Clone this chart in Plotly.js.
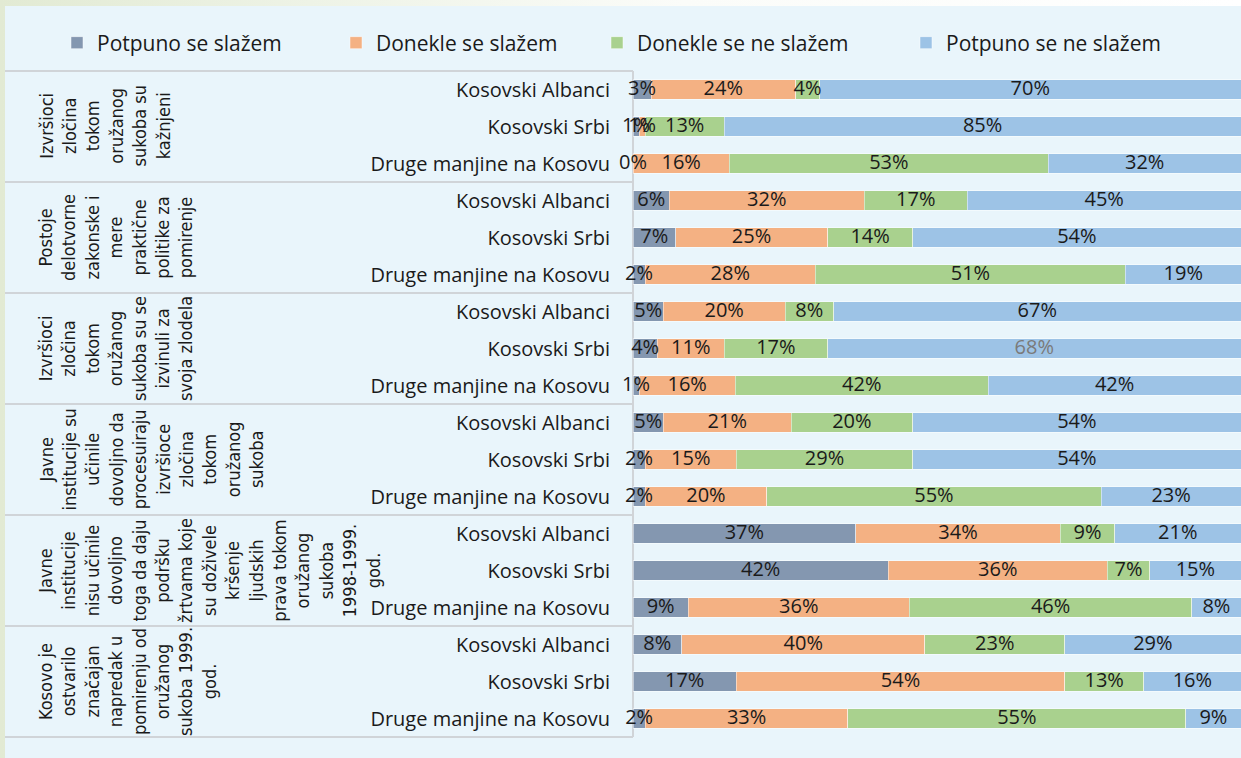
<!DOCTYPE html>
<html>
<head>
<meta charset="utf-8">
<script src="https://cdn.plot.ly/plotly-3.0.1.min.js"></script>
<style>
html,body{margin:0;padding:0;width:1241px;height:758px;overflow:hidden;
background:linear-gradient(90deg,#e2ead3 0%,#eef3e6 25%,#fbfcf9 55%,#ffffff 100%);}
#chart{position:absolute;left:5px;top:6px;width:1236px;height:752px;}
</style>
</head>
<body>
<div id="chart"></div>
<script>
// ---- data ----
const groups = [
  "Izvršioci<br>zločina<br>tokom<br>oružanog<br>sukoba su<br>kažnjeni",
  "Postoje<br>delotvorne<br>zakonske i<br>mere<br>praktične<br>politike za<br>pomirenje",
  "Izvršioci<br>zločina<br>tokom<br>oružanog<br>sukoba su se<br>izvinuli za<br>svoja zlodela",
  "Javne<br>institucije su<br>učinile<br>dovoljno da<br>procesuiraju<br>izvršioce<br>zločina<br>tokom<br>oružanog<br>sukoba",
  "Javne<br>institucije<br>nisu učinile<br>dovoljno<br>toga da daju<br>podršku<br>žrtvama koje<br>su doživele<br>kršenje<br>ljudskih<br>prava tokom<br>oružanog<br>sukoba<br>1998-1999.<br>god.",
  "Kosovo je<br>ostvarilo<br>značajan<br>napredak u<br>pomirenju od<br>oružanog<br>sukoba 1999.<br>god."
];
const respondents = ["Kosovski Albanci", "Kosovski Srbi", "Druge manjine na Kosovu"];
const seriesNames = ["Potpuno se slažem", "Donekle se slažem", "Donekle se ne slažem", "Potpuno se ne slažem"];

// one value per row, rows in order: group 1 (KA, KS, DM), group 2 (...), ...
const potpunoSeSlazem     = [3, 1, 0,   6, 7, 2,   5, 4, 1,   5, 2, 2,   37, 42, 9,   8, 17, 2];
const donekleSeSlazem     = [24, 1, 16, 32, 25, 28, 20, 11, 16, 21, 15, 20, 34, 36, 36, 40, 54, 33];
const donekleSeNeSlazem   = [4, 13, 53, 17, 14, 51, 8, 17, 42, 20, 29, 55, 9, 7, 46, 23, 13, 55];
const potpunoSeNeSlazem   = [70, 85, 32, 45, 54, 19, 67, 68, 42, 54, 54, 23, 21, 15, 8, 29, 16, 9];

// ---- styling ----
const colors = ["#8497b0", "#f4b183", "#a9d18e", "#9dc3e6"];
const FONT = "'Open Sans', 'Noto Sans', sans-serif";
const NARROW = "'Liberation Sans Narrow', 'DejaVu Sans Condensed', 'Roboto', sans-serif";
const TXT = "#1a1a1a";

const series = [potpunoSeSlazem, donekleSeSlazem, donekleSeNeSlazem, potpunoSeNeSlazem];
const nRows = groups.length * respondents.length;
const rowIdx = [];
const rowLabels = [];
for (let g = 0; g < groups.length; g++) {
  for (let r = 0; r < respondents.length; r++) {
    rowIdx.push(g * respondents.length + r);
    rowLabels.push(respondents[r]);
  }
}

const traces = [];
series.forEach((vals, s) => {
  traces.push({
    type: "bar", orientation: "h",
    name: seriesNames[s],
    x: vals, y: rowIdx,
    marker: {color: colors[s], line: {color: "rgba(255,255,255,0.6)", width: 0.8}},
    hoverinfo: "name+x",
    legend: s === 0 ? "legend" : "legend" + (s + 1)
  });
});

// value labels centred in each (normalised) segment
series.forEach((vals, s) => {
  const xs = [];
  const txt = [];
  const tcol = [];
  for (let i = 0; i < nRows; i++) {
    let total = 0, before = 0;
    series.forEach((sv, k) => { total += sv[i]; if (k < s) before += sv[i]; });
    xs.push((before + vals[i] / 2) / total * 100);
    txt.push(vals[i] + "%");
    tcol.push(TXT);
  }
  if (s === 3) tcol[7] = "#7a7a7a";
  traces.push({
    type: "scatter", mode: "text",
    x: xs, y: rowIdx, text: txt,
    textposition: "middle center",
    textfont: {family: FONT, size: 20, color: tcol},
    cliponaxis: false, hoverinfo: "skip", showlegend: false
  });
});

// table lines (left part)
const plotW = 1236 - 628;
const leftEdge = -628 / plotW;
const shapes = [];
for (let g = 0; g <= groups.length; g++) {
  const yy = 1 - g / groups.length;
  shapes.push({type: "line", xref: "paper", yref: "paper", x0: leftEdge, x1: 0, y0: yy, y1: yy,
    line: {color: "#d0d4d8", width: 2}, layer: "below"});
}
shapes.push({type: "line", xref: "paper", yref: "paper", x0: 0, x1: 0, y0: 0, y1: 1,
  line: {color: "#d0d4d8", width: 2}, layer: "below"});

const annotations = groups.map((g, i) => ({
  xref: "paper", yref: "y",
  x: (28 - 628) / plotW, y: i * respondents.length + 1,
  xanchor: "left", yanchor: "middle",
  text: g, textangle: -90, align: "center", showarrow: false,
  font: {family: NARROW, size: 18, color: TXT}
}));

const legendBase = {orientation: "h", xref: "container", yref: "container", yanchor: "middle",
  y: 1 - 37 / 752, xanchor: "left", bgcolor: "rgba(0,0,0,0)", borderwidth: 0,
  font: {family: FONT, size: 21, color: TXT}};
const legendX = [52, 331, 592, 901];

const layout = {
  width: 1236, height: 752,
  margin: {l: 628, r: 0, t: 65, b: 21, pad: 0},
  paper_bgcolor: "#e9f5fb", plot_bgcolor: "rgba(0,0,0,0)",
  barmode: "stack", barnorm: "percent", bargap: 0.48,
  xaxis: {range: [0, 100], visible: false, fixedrange: true},
  yaxis: {range: [nRows - 0.5, -0.5], tickvals: rowIdx, ticktext: rowLabels,
    ticks: "", showgrid: false, zeroline: false, showline: false,
    ticklabelstandoff: 22,
    tickfont: {family: FONT, size: 20, color: TXT}, fixedrange: true},
  showlegend: true,
  legend: Object.assign({}, legendBase, {x: legendX[0] / 1236}),
  legend2: Object.assign({}, legendBase, {x: legendX[1] / 1236}),
  legend3: Object.assign({}, legendBase, {x: legendX[2] / 1236}),
  legend4: Object.assign({}, legendBase, {x: legendX[3] / 1236}),
  shapes: shapes,
  annotations: annotations
};

Plotly.newPlot("chart", traces, layout, {displayModeBar: false, staticPlot: false});
</script>
</body>
</html>
